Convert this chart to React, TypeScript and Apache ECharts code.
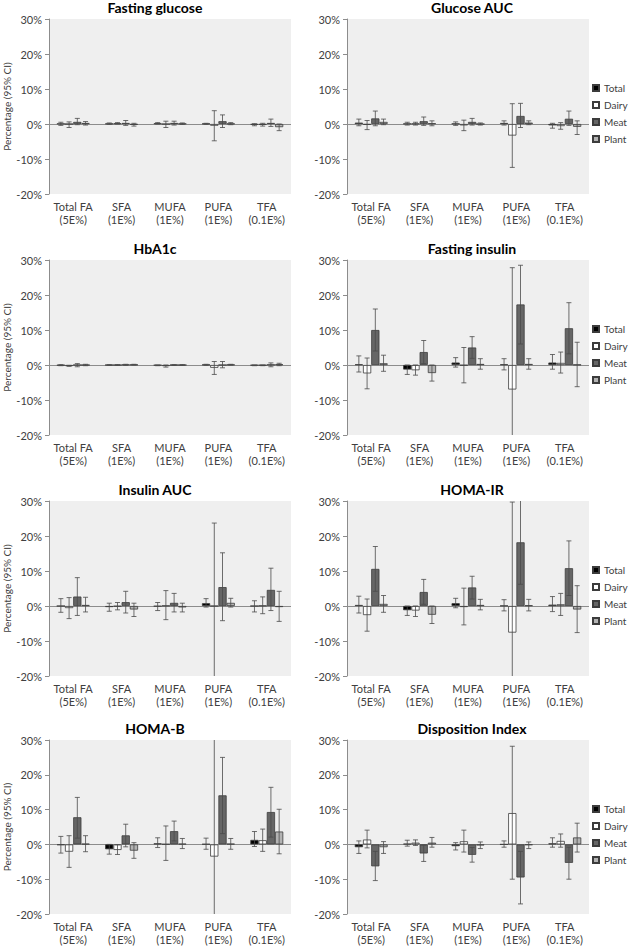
import React, { useEffect, useRef } from 'react';
import * as echarts from 'echarts';

// ---------- data ----------
const CATEGORIES = ['Total FA\n(5E%)', 'SFA\n(1E%)', 'MUFA\n(1E%)', 'PUFA\n(1E%)', 'TFA\n(0.1E%)'];
const SERIES_NAMES = ['Total', 'Dairy', 'Meat', 'Plant'];
const PANEL_TITLES = ['Fasting glucose', 'Glucose AUC', 'HbA1c', 'Fasting insulin', 'Insulin AUC', 'HOMA-IR', 'HOMA-B', 'Disposition Index'];
const Y_MIN = -20;
const Y_MAX = 30;
const Y_STEP = 10;
const Y_NAME = 'Percentage (95% CI)';

// each entry: [estimate, lower CI, upper CI] per category
const FG_TOTAL = [[0.1, -0.4, 0.5], [0.1, -0.1, 0.3], [0.2, 0.0, 0.4], [0.1, -0.1, 0.2], [-0.2, -0.5, 0.1]];
const FG_DAIRY = [[0.0, -1.0, 0.6], [0.2, 0.0, 0.4], [0.0, -1.0, 0.8], [-0.5, -4.8, 3.8], [-0.2, -0.6, 0.2]];
const FG_MEAT = [[0.6, -0.2, 1.6], [0.3, -0.4, 1.0], [0.3, -0.3, 0.8], [0.8, -1.0, 2.6], [0.3, -0.7, 1.4]];
const FG_PLANT = [[0.3, -0.3, 0.7], [-0.2, -0.6, 0.2], [0.1, -0.1, 0.3], [0.1, -0.2, 0.4], [-0.9, -1.9, 0.0]];

const GA_TOTAL = [[0.4, -0.5, 1.4], [0.1, -0.3, 0.5], [0.1, -0.4, 0.6], [0.3, -0.3, 0.9], [-0.4, -1.2, 0.2]];
const GA_DAIRY = [[-0.2, -1.6, 1.0], [0.1, -0.3, 0.5], [-0.4, -1.9, 1.1], [-3.3, -12.4, 5.8], [-0.6, -1.5, 0.4]];
const GA_MEAT = [[1.6, -0.5, 3.7], [0.8, -0.4, 2.0], [0.6, -0.3, 1.6], [2.3, -1.0, 5.9], [1.5, -0.4, 3.7]];
const GA_PLANT = [[0.6, -0.2, 1.4], [0.2, -0.5, 0.9], [0.0, -0.3, 0.3], [0.4, -0.2, 0.9], [-0.8, -3.0, 0.9]];

const HB_TOTAL = [[-0.1, -0.2, 0.1], [0.0, -0.1, 0.1], [-0.1, -0.2, 0.0], [0.1, -0.1, 0.2], [-0.1, -0.2, 0.0]];
const HB_DAIRY = [[-0.3, -0.4, -0.1], [0.0, -0.1, 0.1], [-0.3, -0.6, 0.0], [-0.8, -2.7, 1.0], [-0.1, -0.2, 0.0]];
const HB_MEAT = [[0.0, -0.5, 0.4], [0.1, -0.1, 0.2], [0.0, -0.1, 0.1], [0.0, -0.8, 1.0], [0.1, -0.5, 0.6]];
const HB_PLANT = [[0.0, -0.2, 0.2], [0.1, 0.0, 0.2], [0.0, -0.1, 0.1], [0.1, 0.0, 0.2], [0.2, -0.2, 0.5]];

const FI_TOTAL = [[0.2, -2.0, 2.6], [-1.3, -2.7, 0.0], [0.7, -0.6, 2.1], [0.2, -1.4, 1.8], [0.7, -1.2, 3.0]];
const FI_DAIRY = [[-2.4, -6.8, 2.0], [-1.5, -2.9, 0.0], [-0.1, -5.1, 5.0], [-7.0, -35.0, 27.8], [0.6, -2.3, 3.7]];
const FI_MEAT = [[10.0, 4.0, 16.0], [3.7, 0.4, 7.0], [5.0, 1.9, 8.1], [17.3, 6.0, 28.5], [10.5, 3.2, 17.8]];
const FI_PLANT = [[0.5, -1.8, 2.8], [-2.3, -4.6, 0.0], [0.3, -1.2, 1.8], [0.3, -1.2, 1.8], [0.1, -6.2, 6.5]];

const IA_TOTAL = [[0.0, -1.8, 2.1], [-0.3, -1.5, 0.8], [-0.1, -1.3, 1.0], [0.8, -0.3, 2.1], [0.0, -1.7, 1.5]];
const IA_DAIRY = [[-0.6, -3.6, 2.4], [-0.1, -1.1, 1.0], [0.1, -3.9, 4.4], [0.0, -22.0, 23.7], [0.1, -2.2, 2.6]];
const IA_MEAT = [[2.7, -2.7, 8.1], [1.1, -2.0, 4.2], [0.9, -1.7, 3.6], [5.4, -4.2, 15.2], [4.6, -1.3, 10.8]];
const IA_PLANT = [[0.3, -1.7, 2.5], [-1.0, -3.0, 0.8], [-0.4, -1.7, 0.8], [0.9, -0.3, 2.2], [-0.3, -4.4, 4.2]];

const HI_TOTAL = [[0.3, -2.0, 2.8], [-1.2, -2.7, 0.0], [0.8, -0.5, 2.2], [0.1, -1.4, 1.8], [0.4, -1.6, 2.7]];
const HI_DAIRY = [[-2.6, -7.2, 2.0], [-1.3, -3.0, 0.0], [-0.3, -5.4, 5.1], [-7.6, -35.0, 29.7], [0.5, -2.7, 3.6]];
const HI_MEAT = [[10.6, 4.2, 17.0], [4.0, 0.5, 7.6], [5.3, 2.0, 8.5], [18.2, 6.2, 34.0], [10.8, 3.0, 18.6]];
const HI_PLANT = [[0.6, -1.8, 3.0], [-2.5, -5.0, 0.0], [0.3, -1.1, 1.9], [0.2, -1.4, 1.9], [-1.0, -7.6, 5.8]];

const HBT_TOTAL = [[-0.2, -2.5, 2.3], [-1.4, -2.8, 0.0], [0.3, -0.9, 1.9], [0.1, -1.4, 1.8], [1.3, -0.6, 3.7]];
const HBT_DAIRY = [[-2.1, -6.6, 2.5], [-1.6, -2.9, -0.1], [0.1, -4.6, 5.3], [-3.5, -35.0, 35.0], [1.2, -2.0, 4.4]];
const HBT_MEAT = [[7.8, 1.8, 13.5], [2.6, -0.7, 5.8], [3.8, 1.0, 6.7], [14.1, 3.1, 25.0], [9.3, 2.1, 16.4]];
const HBT_PLANT = [[0.2, -2.1, 2.5], [-1.8, -4.0, 0.5], [0.2, -1.2, 1.7], [0.2, -1.4, 1.7], [3.7, -2.7, 10.1]];

const DI_TOTAL = [[-0.8, -2.6, 1.0], [0.2, -0.5, 1.2], [-0.5, -1.6, 0.5], [0.0, -0.8, 1.0], [0.3, -0.8, 1.9]];
const DI_DAIRY = [[1.4, -1.0, 4.1], [0.5, -0.3, 1.3], [0.9, -2.2, 4.1], [9.0, -10.0, 28.2], [1.0, -0.8, 3.0]];
const DI_MEAT = [[-6.3, -10.4, -2.0], [-2.6, -4.9, -0.2], [-3.0, -5.1, -0.9], [-9.5, -17.1, -2.0], [-5.3, -10.0, -0.8]];
const DI_PLANT = [[-0.8, -2.6, 0.8], [0.5, -0.8, 2.0], [-0.3, -1.2, 0.7], [-0.2, -1.2, 0.7], [2.0, -2.2, 6.1]];

const PANEL_DATA = [
  [FG_TOTAL, FG_DAIRY, FG_MEAT, FG_PLANT],
  [GA_TOTAL, GA_DAIRY, GA_MEAT, GA_PLANT],
  [HB_TOTAL, HB_DAIRY, HB_MEAT, HB_PLANT],
  [FI_TOTAL, FI_DAIRY, FI_MEAT, FI_PLANT],
  [IA_TOTAL, IA_DAIRY, IA_MEAT, IA_PLANT],
  [HI_TOTAL, HI_DAIRY, HI_MEAT, HI_PLANT],
  [HBT_TOTAL, HBT_DAIRY, HBT_MEAT, HBT_PLANT],
  [DI_TOTAL, DI_DAIRY, DI_MEAT, DI_PLANT],
];

// ---------- style / layout ----------
const W = 630;
const H = 946;
const FONT = 'Lato, "Open Sans", sans-serif';
const FILLS = ['#000000', '#ffffff', '#666666', '#b3b3b3'];
const BORDER = '#3c3c3c';
const AXIS_GRAY = '#8c8c8c';
const TEXT = '#404040';
const GAP = 0.32;
const COL_LEFT = [49, 347];
const COL_TITLE_X = [155, 472];
const ROW_TOP = [19, 260, 501, 740];
const GRID_W = 242;
const GRID_H = 175;

function buildOption() {
  const grid: any[] = [];
  const xAxis: any[] = [];
  const yAxis: any[] = [];
  const title: any[] = [];
  const legend: any[] = [];
  const series: any[] = [];

  PANEL_TITLES.forEach((t, p) => {
    const col = p % 2;
    const row = Math.floor(p / 2);
    grid.push({
      left: COL_LEFT[col], top: ROW_TOP[row], width: GRID_W, height: GRID_H,
      show: true, backgroundColor: '#efefef', borderWidth: 0, containLabel: false,
    });
    title.push({
      text: t, left: COL_TITLE_X[col], top: ROW_TOP[row] - 19, textAlign: 'center', padding: 0,
      textStyle: { fontFamily: FONT, fontSize: 14, fontWeight: 'bold', color: '#000' },
    });
    xAxis.push({
      type: 'category', gridIndex: p, data: CATEGORIES,
      axisLine: { show: false }, axisTick: { show: false },
      axisLabel: { interval: 0, fontFamily: FONT, fontSize: 11, lineHeight: 13, color: TEXT, margin: 6 },
      splitLine: { show: false },
    });
    yAxis.push({
      type: 'value', gridIndex: p, min: Y_MIN, max: Y_MAX, interval: Y_STEP,
      name: col === 0 ? Y_NAME : '', nameLocation: 'middle', nameGap: 37,
      nameTextStyle: { fontFamily: FONT, fontSize: 10, color: TEXT },
      axisLine: { show: true, lineStyle: { color: AXIS_GRAY, width: 1 } },
      axisTick: { show: true, length: 4, lineStyle: { color: AXIS_GRAY } },
      axisLabel: { formatter: '{value}%', fontFamily: FONT, fontSize: 11, color: TEXT, margin: 7 },
      splitLine: { show: false },
    });
    if (col === 1) {
      legend.push({
        data: SERIES_NAMES, orient: 'vertical', left: 592, top: ROW_TOP[row] + 63,
        itemWidth: 6, itemHeight: 6, itemGap: 5, icon: 'rect', selectedMode: false, padding: 0,
        textStyle: { fontFamily: FONT, fontSize: 10, lineHeight: 12, color: TEXT },
      });
    }
    const data = PANEL_DATA[p];
    SERIES_NAMES.forEach((name, si) => {
      const s: any = {
        type: 'bar', name, xAxisIndex: p, yAxisIndex: p,
        data: data[si].map((d) => d[0]),
        barGap: 0, barCategoryGap: `${GAP * 100}%`,
        itemStyle: { color: FILLS[si], borderColor: BORDER, borderWidth: 0.8 },
        emphasis: { disabled: true },
      };
      if (si === 0) {
        s.markLine = {
          silent: true, symbol: ['none', 'none'], label: { show: false },
          lineStyle: { color: AXIS_GRAY, width: 1, type: 'solid' },
          data: [{ yAxis: 0 }], z: 1,
        };
      }
      series.push(s);
    });
    SERIES_NAMES.forEach((name, si) => {
      series.push({
        type: 'custom', name: `${name} CI`, xAxisIndex: p, yAxisIndex: p, z: 5,
        encode: { x: 0, y: [1, 2] },
        data: data[si].map((d, ci) => [ci, d[1], d[2]]),
        renderItem: (params: any, api: any) => {
          const cat = api.value(0);
          const lo = api.value(1);
          const hi = api.value(2);
          const c = api.coord([cat, 0]);
          const band = api.size([1, 0])[0];
          const bw = (band * (1 - GAP)) / 4;
          const x = c[0] - 2 * bw + (si + 0.5) * bw;
          const cs = params.coordSys;
          const top = cs.y;
          const bot = cs.y + cs.height;
          const yHiRaw = api.coord([cat, hi])[1];
          const yLoRaw = api.coord([cat, lo])[1];
          const yHi = Math.max(top, Math.min(bot, yHiRaw));
          const yLo = Math.max(top, Math.min(bot, yLoRaw));
          const st = { stroke: '#4a4a4a', lineWidth: 0.8 };
          const children: any[] = [
            { type: 'line', shape: { x1: x, y1: yHi, x2: x, y2: yLo }, style: st },
          ];
          const cap = 2.5;
          if (yHiRaw >= top) children.push({ type: 'line', shape: { x1: x - cap, y1: yHi, x2: x + cap, y2: yHi }, style: st });
          if (yLoRaw <= bot) children.push({ type: 'line', shape: { x1: x - cap, y1: yLo, x2: x + cap, y2: yLo }, style: st });
          return { type: 'group', children };
        },
      });
    });
  });

  return {
    animation: false,
    backgroundColor: '#ffffff',
    textStyle: { fontFamily: FONT },
    title, grid, xAxis, yAxis, legend, series,
  };
}

export default function App() {
  const ref = useRef<HTMLDivElement>(null);
  useEffect(() => {
    document.body.style.margin = '0';
    if (!ref.current) return;
    const chart = echarts.init(ref.current, undefined, { renderer: 'svg', width: W, height: H });
    chart.setOption(buildOption() as any);
    return () => chart.dispose();
  }, []);
  return <div ref={ref} style={{ width: W, height: H }} />;
}
